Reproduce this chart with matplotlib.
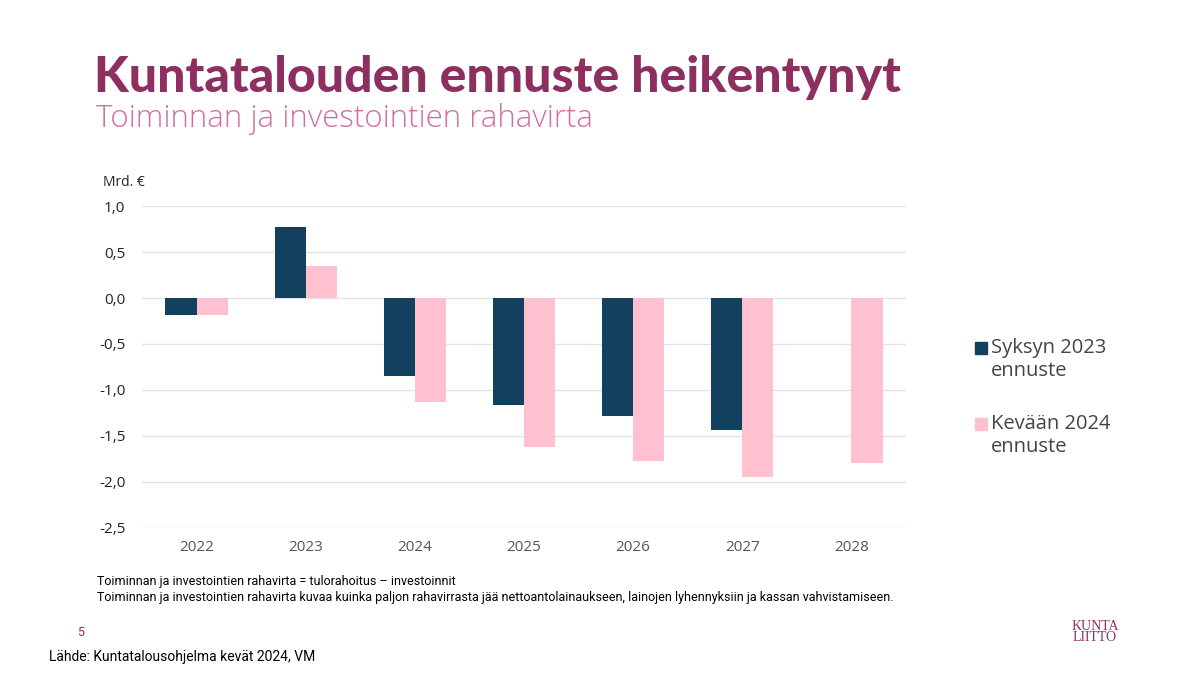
#Kuntatalouden ennuste - toiminnan ja investointien rahavirta
import numpy as np
import matplotlib.pyplot as plt

#data (Mrd. €)
years = ['2022', '2023', '2024', '2025', '2026', '2027', '2028']
syksy2023 = [-0.19, 0.77, -0.85, -1.16, -1.28, -1.44, np.nan]
kevat2024 = [-0.19, 0.35, -1.13, -1.62, -1.77, -1.95, -1.79]
yticks = [1.0, 0.5, 0.0, -0.5, -1.0, -1.5, -2.0, -2.5]
legend_labels = ['Syksyn 2023\nennuste', 'Kevään 2024\nennuste']

navy = '#12405F'
pink = '#FFC0D0'
title_col = '#8E2F62'
sub_col = '#D06EA3'

plt.rcParams['font.family'] = ['Open Sans', 'DejaVu Sans']

fig = plt.figure(figsize=(12, 6.75), dpi=100)
ax = fig.add_axes([0.1183, 0.2178, 0.6367, 0.477])

x = np.arange(len(years))
w = 0.285
ax.bar(x - w/2, syksy2023, width=w, color=navy, zorder=3)
ax.bar(x + w/2, kevat2024, width=w, color=pink, zorder=3)

ax.set_xlim(-0.5, len(years) - 0.5)
ax.set_ylim(-2.5, 1.0)
ax.set_yticks(yticks)
ax.set_yticklabels([('%.1f' % v).replace('.', ',') for v in yticks],
                   fontsize=11, color='#222222')
ax.set_xticks(x)
ax.set_xticklabels(years, fontsize=11, color='#555555')
ax.tick_params(axis='x', length=0, pad=9)
ax.tick_params(axis='y', length=0, pad=12)
ax.grid(axis='y', color='#E3E3E3', linewidth=1, zorder=0)
for s in ax.spines.values():
    s.set_visible(False)

#titles
fig.text(94/1200, 1 - 78/675, 'Kuntatalouden ennuste heikentynyt', fontsize=36,
         fontweight='black', color=title_col, va='center', ha='left',
         family=['Lato', 'DejaVu Sans'])
fig.text(96/1200, 1 - 119/675, 'Toiminnan ja investointien rahavirta', fontsize=22.5,
         fontweight='light', color=sub_col, va='center', ha='left')
fig.text(103/1200, 1 - 183/675, 'Mrd. €', fontsize=10, color='#222222', va='center')

#legend by hand, one text per line
for i, (lab, col) in enumerate(zip(legend_labels, [navy, pink])):
    ytop = 348 + i*76
    fig.patches.append(plt.Rectangle((975/1200, 1 - (ytop + 6)/675), 12/1200, 12/675,
                                     transform=fig.transFigure, color=col))
    for j, line in enumerate(lab.split('\n')):
        fig.text(991/1200, 1 - (ytop + j*23)/675, line, fontsize=14.5, color='#444444',
                 va='center', ha='left')

#notes
note_font = ['Roboto', 'DejaVu Sans']
fig.text(97/1200, 1 - 581/675, 'Toiminnan ja investointien rahavirta = tulorahoitus \u2013 investoinnit',
         fontsize=9, family=note_font, va='center')
fig.text(97/1200, 1 - 597/675, 'Toiminnan ja investointien rahavirta kuvaa kuinka paljon rahavirrasta jää '
         'nettoantolainaukseen, lainojen lyhennyksiin ja kassan vahvistamiseen.',
         fontsize=9, family=note_font, va='center')
fig.text(77/1200, 1 - 632/675, '5', fontsize=9, color=title_col, va='center', family=note_font)
fig.text(49/1200, 1 - 657/675, 'Lähde: Kuntatalousohjelma kevät 2024, VM', fontsize=10,
         family=note_font, va='center')
fig.text(1095/1200, 1 - 632/675, 'KUNTA\nLIITTO', fontsize=10, color=title_col,
         family=['Liberation Serif', 'DejaVu Serif'], va='center', ha='center', linespacing=0.8)

plt.savefig('out.png', dpi=100)
